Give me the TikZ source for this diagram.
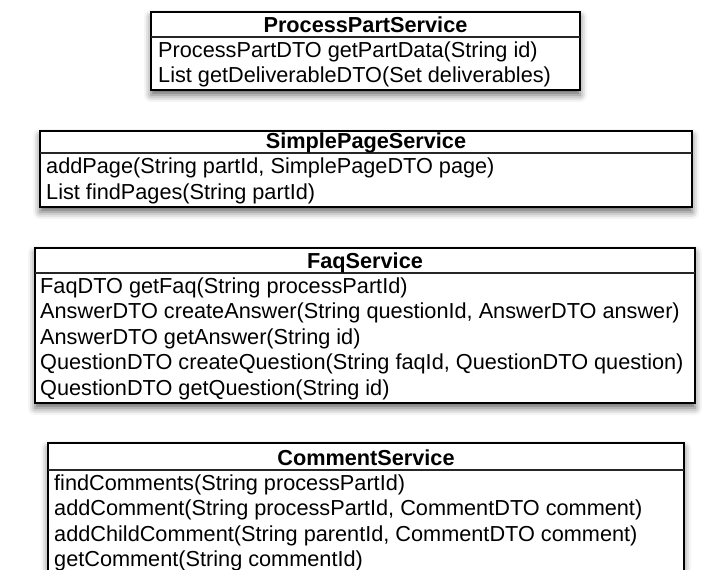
\documentclass[tikz,border=0pt]{standalone}
\usepackage{fontspec}
\setmainfont{Liberation Sans}
\usetikzlibrary{shadows.blur}

\begin{document}
\begin{tikzpicture}[x=1pt,y=-1pt,
  umlbox/.style={draw=black, line width=1.2pt, fill=white,
    blur shadow={shadow xshift=0pt, shadow yshift=-5pt,
      shadow blur radius=7pt, shadow opacity=60}},
  sepline/.style={draw=black!85, line width=1.6pt},
  classname/.style={font=\fontsize{21.7}{26}\selectfont\bfseries,
    anchor=base, inner sep=0pt},
  member/.style={font=\fontsize{21.7}{26}\selectfont,
    anchor=base west, inner sep=0pt}]
\useasboundingbox (0,0) rectangle (712,570);

% ProcessPartService
\draw[umlbox] (151,12) rectangle (580,90);
\draw[sepline] (151,37) -- (580,37);
\node[classname] (pps) at (365.5,32) {ProcessPartService};
\node[member] (pps1) at (158,57) {ProcessPartDTO getPartData(String id)};
\node[member] (pps2) at (158,82.5) {List getDeliverableDTO(Set deliverables)};

% SimplePageService
\draw[umlbox] (40,131) rectangle (692,207);
\draw[sepline] (40,153) -- (692,153);
\node[classname] (sps) at (366,148.5) {SimplePageService};
\node[member] (sps1) at (46,173.5) {addPage(String partId, SimplePageDTO page)};
\node[member] (sps2) at (46,199) {List findPages(String partId)};

% FaqService
\draw[umlbox] (35,248) rectangle (695,403);
\draw[sepline] (35,273) -- (695,273);
\node[classname] (faq) at (365,268) {FaqService};
\node[member] (faq1) at (40,293) {FaqDTO getFaq(String processPartId)};
\node[member] (faq2) at (40,318.5) {AnswerDTO createAnswer(String questionId, AnswerDTO answer)};
\node[member] (faq3) at (40,344) {AnswerDTO getAnswer(String id)};
\node[member] (faq4) at (40,369.5) {QuestionDTO createQuestion(String faqId, QuestionDTO question)};
\node[member] (faq5) at (40,395) {QuestionDTO getQuestion(String id)};

% CommentService (runs past the lower edge)
\draw[umlbox] (48,443) rectangle (684,576);
\draw[sepline] (48,470) -- (684,470);
\node[classname] (cs) at (366,465) {CommentService};
\node[member] (cs1) at (54,490) {findComments(String processPartId)};
\node[member] (cs2) at (54,515.5) {addComment(String processPartId, CommentDTO comment)};
\node[member] (cs3) at (54,541) {addChildComment(String parentId, CommentDTO comment)};
\node[member] (cs4) at (54,566.5) {getComment(String commentId)};
\end{tikzpicture}
\end{document}
